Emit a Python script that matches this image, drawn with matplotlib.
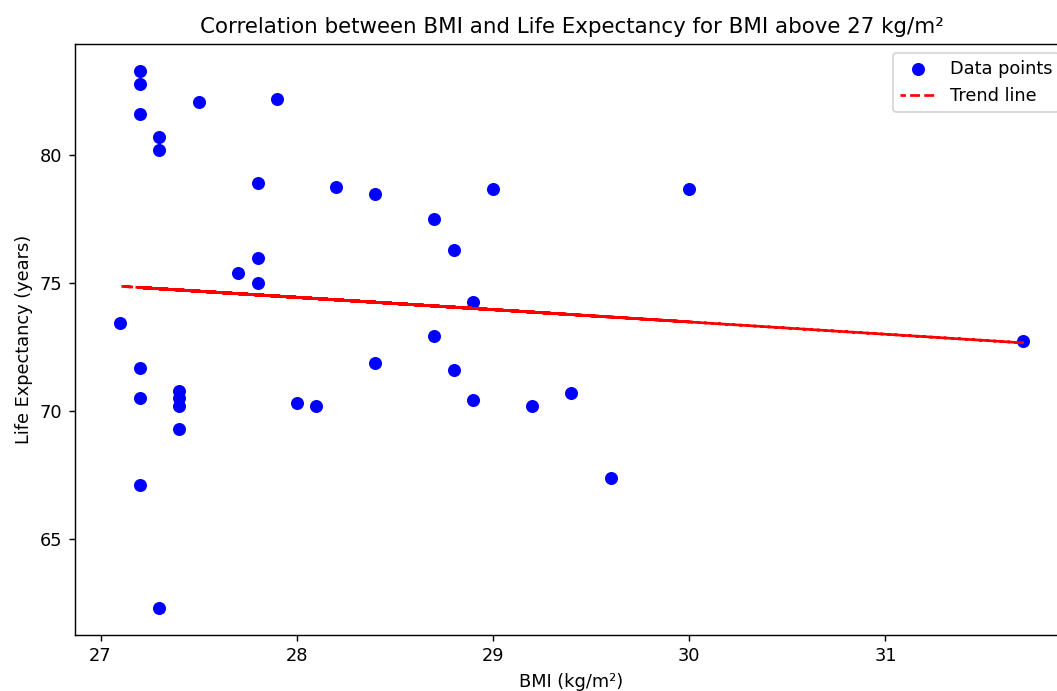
import numpy as np
import matplotlib
matplotlib.use("Agg")
import matplotlib.pyplot as plt

# Data (BMI, life expectancy), in a non-sorted order
bmi = [27.2, 28.7, 27.4, 31.7, 27.8, 29.0, 27.3, 28.1, 27.2, 29.6,
       27.5, 28.4, 27.4, 30.0, 27.1, 28.8, 27.9, 27.2, 29.4, 28.2,
       27.3, 28.9, 27.4, 27.8, 28.0, 27.2, 28.8, 29.2, 27.7, 27.2,
       28.4, 27.4, 28.9, 27.3, 28.7, 27.8, 27.2]
life = [83.3, 77.5, 70.8, 72.75, 78.9, 78.7, 80.7, 70.2, 71.7, 67.4,
        82.1, 78.5, 70.5, 78.7, 73.45, 76.3, 82.2, 67.1, 70.7, 78.75,
        62.3, 74.25, 70.2, 76.0, 70.3, 82.8, 71.6, 70.2, 75.4, 70.5,
        71.9, 69.3, 70.45, 80.2, 72.95, 75.0, 81.6]

# Trend line end points
trend_x = [27.1, 31.7]
trend_y = [74.88, 72.67]

title = "Correlation between BMI and Life Expectancy for BMI above 27 kg/m²"
xlabel = "BMI (kg/m²)"
ylabel = "Life Expectancy (years)"

W, H, DPI = 1057, 691, 128
fig = plt.figure(figsize=(W / DPI, H / DPI), dpi=DPI)
left, right, top, bottom = 75, 1068, 44, 635
ax = fig.add_axes([left / W, 1 - bottom / H, (right - left) / W, (bottom - top) / H])

x = np.array(bmi)
y = np.array(life)
ax.scatter(x, y, color="blue", s=40, label="Data points", zorder=2)
slope = (trend_y[1] - trend_y[0]) / (trend_x[1] - trend_x[0])
ax.plot(x, trend_y[0] + slope * (x - trend_x[0]), color="red",
        linestyle=(1.69, (3.7, 1.6)), label="Trend line", zorder=3)

ax.set_xlim(26.87, 31.93)
ax.set_ylim(61.25, 84.35)
ax.set_title(title)
ax.set_xlabel(xlabel)
ax.set_ylabel(ylabel)
ax.set_xticks([27, 28, 29, 30, 31])
ax.set_yticks([65, 70, 75, 80])
ax.legend(loc="upper right")

fig.savefig("out.png", dpi=DPI)
